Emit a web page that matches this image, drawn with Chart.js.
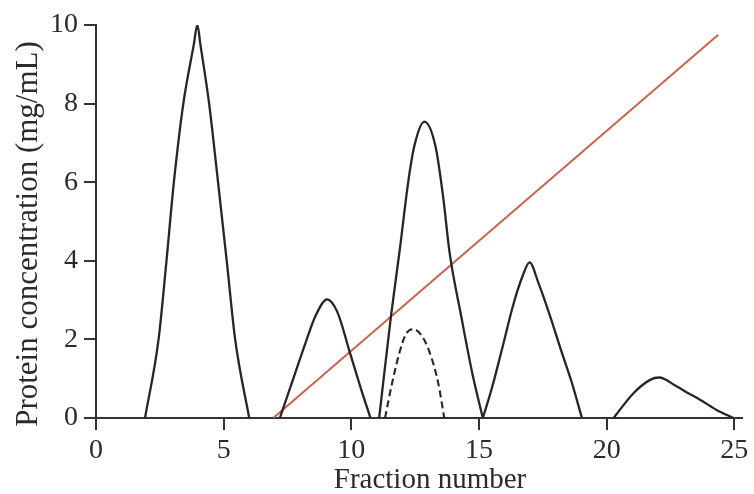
<!DOCTYPE html>
<html>
<head>
<meta charset="utf-8">
<script src="https://cdn.jsdelivr.net/npm/chart.js@4.4.1/dist/chart.umd.min.js"></script>
<style>
  html, body { margin: 0; padding: 0; background: #ffffff; }
  #wrap { width: 754px; height: 494px; }
</style>
</head>
<body>
<div id="wrap"><canvas id="c" width="754" height="494"></canvas></div>
<script>
// ---- data ----
const xTitle = "Fraction number";
const yTitle = "Protein concentration (mg/mL)";
const xTickValues = [0, 5, 10, 15, 20, 25];
const yTickStep = 2;

const peak1X = [1.92, 2.45, 2.76, 3.05, 3.42, 3.83, 3.97, 4.09, 4.43, 4.78, 5.12, 5.45, 6.0];
const peak1Y = [0, 2, 4, 6, 8, 9.5, 10, 9.5, 8, 6, 4, 2, 0];

const peak2X = [7.2, 7.7, 8.2, 8.6, 9.05, 9.45, 9.95, 10.35, 10.75];
const peak2Y = [0, 0.95, 1.9, 2.6, 3.02, 2.7, 1.65, 0.8, 0];

const peak3X = [11.09, 11.55, 11.9, 12.24, 12.46, 12.86, 13.3, 13.6, 13.85, 14.3, 14.75, 15.15];
const peak3Y = [0, 2.58, 4.3, 6.06, 6.9, 7.54, 6.9, 5.6, 4.2, 2.6, 1.1, 0];

const peak4X = [15.15, 15.5, 15.9, 16.35, 16.7, 16.98, 17.33, 17.79, 18.2, 18.64, 19.03];
const peak4Y = [0, 0.75, 1.75, 2.9, 3.6, 3.96, 3.43, 2.58, 1.75, 0.89, 0];

const peak5X = [20.27, 21.05, 21.7, 22.05, 22.75, 23.2, 23.67, 24.32, 24.97];
const peak5Y = [0, 0.63, 0.97, 1.03, 0.8, 0.63, 0.46, 0.2, 0];

const dashedX = [11.32, 11.6, 11.9, 12.15, 12.43, 12.75, 13.05, 13.4, 13.64];
const dashedY = [0, 0.9, 1.7, 2.15, 2.26, 2.1, 1.7, 0.9, 0];

const gradientX = [6.94, 24.37];
const gradientY = [0, 9.75];

// ---- build ----
const pts = (xs, ys) => xs.map((x, i) => ({ x: x, y: ys[i] }));
const FONT = "'Liberation Serif', 'Times New Roman', Times, serif";
const INK = '#262626';

function curve(xs, ys, extra) {
  return Object.assign({
    data: pts(xs, ys),
    borderColor: INK,
    borderWidth: 2.3,
    pointRadius: 0,
    fill: false,
    cubicInterpolationMode: 'monotone'
  }, extra || {});
}

const titlePlugin = {
  id: 'axisTitles',
  afterDraw(chart) {
    const ctx = chart.ctx;
    ctx.save();
    ctx.fillStyle = '#2b2b2b';
    ctx.font = '29px ' + FONT;
    ctx.textAlign = 'center';
    ctx.textBaseline = 'alphabetic';
    ctx.fillText(xTitle, 430, 488);
    ctx.translate(37, 234);
    ctx.rotate(-Math.PI / 2);
    ctx.font = '31px ' + FONT;
    ctx.fillText(yTitle, 0, 0);
    ctx.restore();
  }
};

new Chart(document.getElementById('c'), {
  type: 'line',
  data: {
    datasets: [
      curve(peak1X, peak1Y),
      curve(peak2X, peak2Y),
      curve(peak3X, peak3Y),
      curve(peak4X, peak4Y),
      curve(peak5X, peak5Y),
      curve(dashedX, dashedY, { borderDash: [7, 4], borderWidth: 2.1 }),
      {
        data: pts(gradientX, gradientY),
        borderColor: '#c8634f',
        borderWidth: 2,
        pointRadius: 0,
        fill: false,
        tension: 0
      }
    ]
  },
  options: {
    responsive: false,
    animation: false,
    devicePixelRatio: 1,
    layout: { padding: { top: 25, right: 12, left: 0, bottom: 0 } },
    plugins: { legend: { display: false }, tooltip: { enabled: false }, title: { display: false } },
    scales: {
      x: {
        type: 'linear',
        min: 0,
        max: 25.3,
        afterBuildTicks: (s) => { s.ticks = xTickValues.map(v => ({ value: v })); },
        afterFit: (s) => { s.height = 76; },
        border: { display: true, color: '#333333', width: 2 },
        grid: { drawOnChartArea: false, drawTicks: true, tickLength: 12, color: '#333333', lineWidth: 2 },
        ticks: { color: '#2b2b2b', padding: 4, maxRotation: 0, autoSkip: false,
                 font: { family: FONT, size: 28 } }
      },
      y: {
        type: 'linear',
        min: 0,
        max: 10,
        afterFit: (s) => { s.width = 96; },
        border: { display: true, color: '#333333', width: 2 },
        grid: { drawOnChartArea: false, drawTicks: true, tickLength: 12, color: '#333333', lineWidth: 2 },
        ticks: { stepSize: yTickStep, color: '#2b2b2b', padding: 6,
                 font: { family: FONT, size: 28 } }
      }
    }
  },
  plugins: [titlePlugin]
});
</script>
</body>
</html>
